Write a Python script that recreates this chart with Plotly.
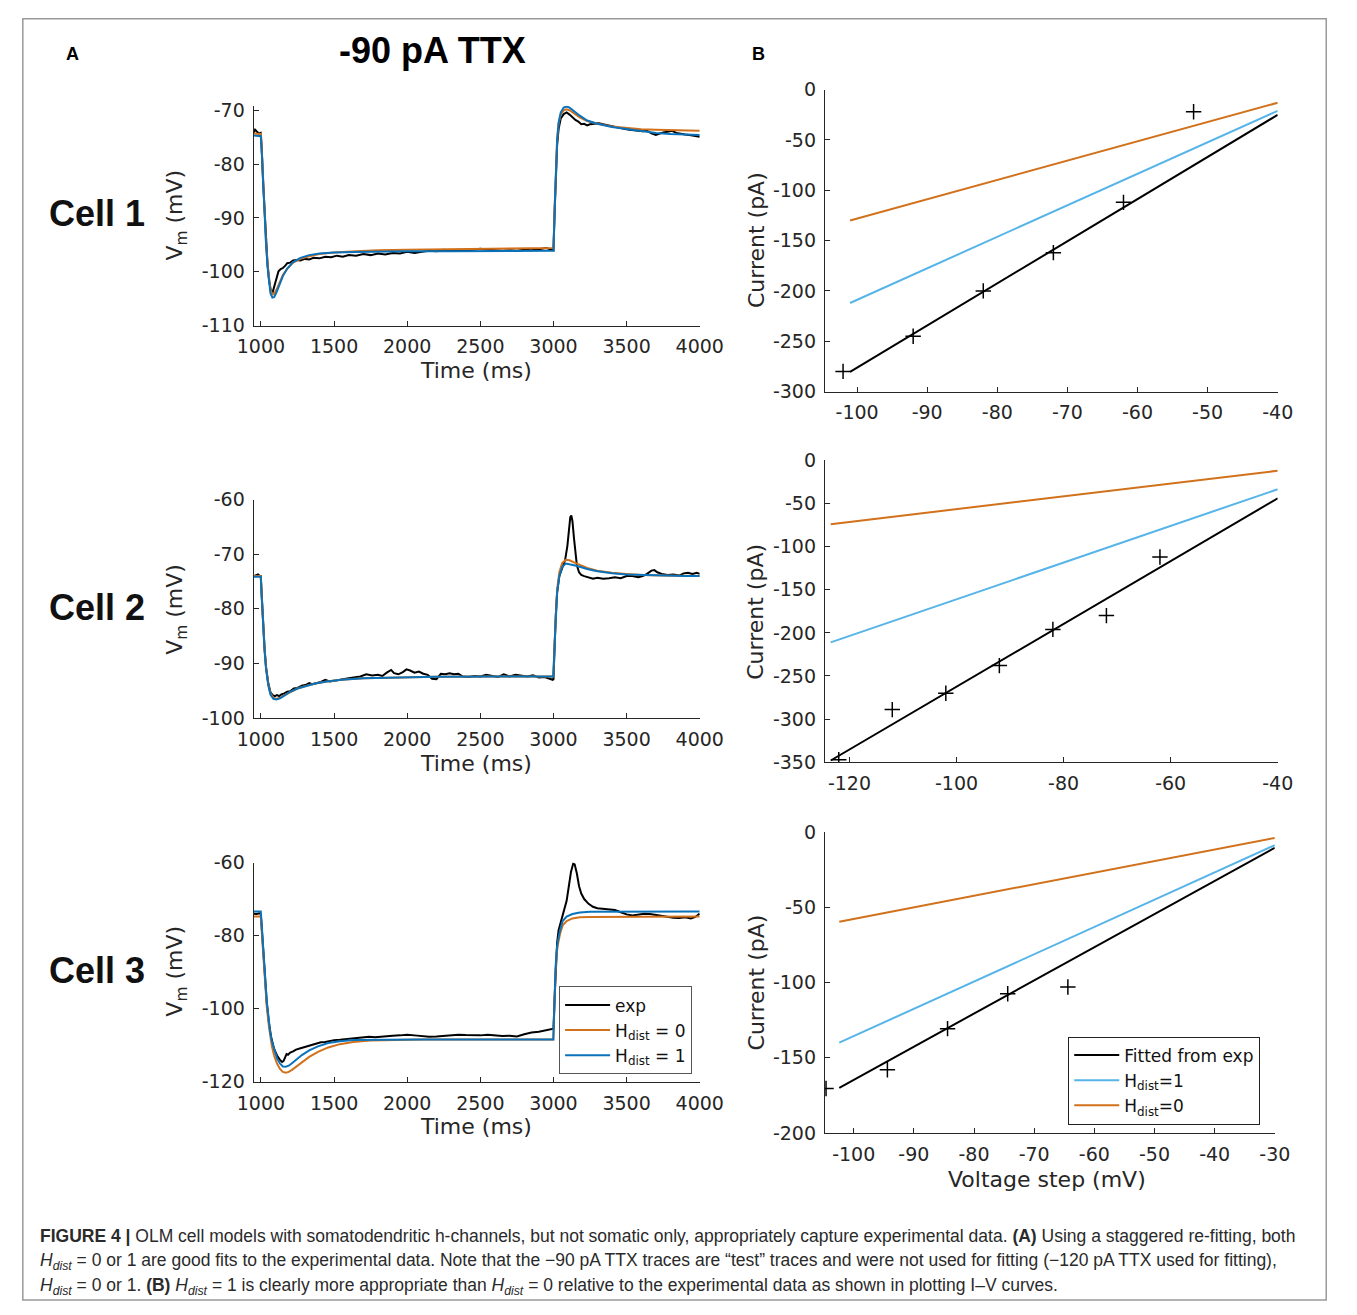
import plotly.graph_objects as go

W, H = 1357, 1315


def px(x):
    return x / W


def py(y):
    return 1 - y / H


# ---------------- Panel A data (time in ms, Vm in mV) ----------------
# Cell 1
c1_t_mod = [950, 995, 1000, 1008, 1016, 1025, 1035, 1045, 1055, 1065, 1078, 1090, 1105, 1125, 1150, 1180,
            1220, 1270, 1330, 1400, 1500, 1650, 1800, 2000, 2300, 2600, 2999, 3000, 3008, 3016, 3025, 3035,
            3050, 3070, 3090, 3110, 3140, 3180, 3230, 3300, 3400, 3500, 3600, 3700, 3800, 3900, 4000]
c1_h0 = [-74.3, -74.3, -74.4, -78.5, -84.0, -89.5, -94.5, -98.5, -101.5, -103.3, -104.2, -104.1, -103.4,
         -102.0, -100.6, -99.4, -98.3, -97.6, -97.1, -96.7, -96.4, -96.2, -96.0, -95.9, -95.8, -95.8, -95.7,
         -95.6, -88.0, -80.5, -75.5, -72.5, -70.8, -70.0, -69.8, -70.0, -70.6, -71.3, -72.0, -72.5, -73.0,
         -73.3, -73.5, -73.6, -73.7, -73.8, -73.8]
c1_h1 = [-74.7, -74.7, -74.8, -79.0, -84.5, -90.0, -95.0, -99.0, -102.2, -104.0, -104.8, -104.7, -103.9,
         -102.4, -100.8, -99.4, -98.2, -97.4, -96.9, -96.6, -96.4, -96.3, -96.2, -96.2, -96.2, -96.2, -96.2,
         -96.1, -88.5, -81.0, -75.5, -72.3, -70.4, -69.5, -69.3, -69.5, -70.2, -71.0, -71.9, -72.5, -73.1,
         -73.5, -73.9, -74.2, -74.4, -74.5, -74.6]
c1_t_exp = [950, 960, 970, 985, 998, 1005, 1015, 1025, 1035, 1045, 1055, 1065, 1072, 1080, 1090, 1100, 1110,
            1120, 1135, 1150, 1165, 1180, 1200, 1220, 1245, 1270, 1300, 1330, 1360, 1400, 1440, 1480, 1520,
            1560, 1600, 1650, 1700, 1750, 1800, 1850, 1900, 1950, 2000, 2050, 2100, 2150, 2200, 2250, 2300,
            2350, 2400, 2450, 2500, 2550, 2600, 2650, 2700, 2750, 2800, 2850, 2900, 2950, 2990, 3000, 3008,
            3016, 3025, 3035, 3050, 3070, 3090, 3110, 3130, 3150, 3170, 3190, 3210, 3230, 3250, 3280, 3310,
            3340, 3370, 3400, 3430, 3460, 3490, 3520, 3550, 3580, 3610, 3640, 3670, 3700, 3720, 3750, 3780,
            3810, 3840, 3870, 3900, 3930, 3960, 4000]
c1_exp = [-74.2, -73.6, -73.9, -74.3, -74.2, -77.0, -83.5, -89.0, -94.5, -98.5, -101.5, -103.5, -104.2,
          -103.8, -102.8, -101.6, -100.5, -99.9, -99.5, -99.3, -98.9, -98.4, -98.3, -97.9, -97.8, -97.9,
          -97.6, -97.7, -97.4, -97.5, -97.2, -97.3, -97.0, -97.2, -96.9, -97.0, -96.7, -96.9, -96.6, -96.8,
          -96.5, -96.6, -96.3, -96.5, -96.3, -96.1, -96.2, -95.9, -96.1, -96.0, -96.1, -95.9, -95.7, -95.9,
          -96.0, -96.1, -96.0, -96.1, -95.9, -96.0, -95.8, -95.6, -95.9, -96.0, -89.0, -81.5, -76.5, -73.5,
          -71.5, -70.7, -70.4, -70.8, -71.3, -71.8, -72.1, -72.6, -72.5, -72.8, -72.6, -72.5, -72.4, -72.6,
          -72.8, -73.0, -73.1, -73.3, -73.5, -73.6, -73.7, -73.8, -73.9, -73.8, -74.3, -74.6, -74.4, -74.1,
          -74.0, -73.8, -74.2, -74.4, -74.5, -74.6, -74.7, -74.9]

# Cell 2
c2_t_mod = [950, 999, 1005, 1015, 1025, 1035, 1050, 1065, 1085, 1105, 1130, 1160, 1200, 1250, 1300, 1370,
            1450, 1550, 1700, 1900, 2200, 2600, 2999, 3008, 3016, 3025, 3040, 3060, 3085, 3110, 3140, 3180,
            3230, 3300, 3400, 3500, 3600, 3750, 3900, 4000]
c2_h0 = [-74.0, -74.0, -77.5, -83.0, -87.5, -90.8, -93.8, -95.5, -96.3, -96.5, -96.3, -95.8, -95.2, -94.6,
         -94.2, -93.7, -93.3, -93.0, -92.7, -92.55, -92.45, -92.4, -92.4, -86.0, -80.5, -76.5, -73.3, -71.6,
         -71.0, -71.1, -71.5, -72.0, -72.5, -73.0, -73.4, -73.6, -73.8, -73.9, -74.0, -74.0]
c2_h1 = [-74.1, -74.1, -77.6, -83.2, -87.7, -91.0, -94.0, -95.7, -96.5, -96.6, -96.4, -95.9, -95.2, -94.6,
         -94.2, -93.7, -93.3, -93.0, -92.7, -92.55, -92.45, -92.4, -92.4, -86.5, -81.0, -77.0, -74.0, -72.3,
         -71.7, -71.8, -72.0, -72.3, -72.7, -73.1, -73.5, -73.7, -73.8, -73.9, -74.0, -74.0]
c2_t_exp = [950, 965, 980, 992, 999, 1005, 1015, 1025, 1035, 1050, 1065, 1080, 1095, 1110, 1125, 1140, 1160,
            1180, 1200, 1225, 1250, 1280, 1310, 1330, 1350, 1380, 1410, 1440, 1470, 1500, 1530, 1560, 1600,
            1640, 1680, 1720, 1760, 1800, 1830, 1860, 1890, 1910, 1940, 1970, 1995, 2020, 2050, 2080, 2110,
            2140, 2170, 2200, 2230, 2260, 2290, 2320, 2350, 2380, 2420, 2460, 2500, 2540, 2580, 2620, 2660,
            2700, 2740, 2780, 2820, 2860, 2900, 2940, 2970, 2995, 3000, 3008, 3016, 3025, 3040, 3060, 3080,
            3095, 3105, 3115, 3122, 3130, 3140, 3150, 3160, 3175, 3190, 3210, 3240, 3270, 3300, 3340, 3380,
            3420, 3460, 3500, 3540, 3580, 3610, 3640, 3670, 3690, 3710, 3740, 3780, 3820, 3860, 3890, 3920,
            3950, 3980, 4000]
c2_exp = [-74.0, -73.9, -73.7, -74.0, -74.0, -77.3, -82.8, -87.3, -90.7, -93.6, -95.3, -95.8, -96.0, -95.8,
          -96.0, -95.7, -95.5, -95.2, -95.1, -94.6, -94.5, -94.1, -93.9, -93.6, -93.8, -93.6, -93.4, -93.0,
          -93.3, -93.2, -93.0, -92.9, -92.7, -92.5, -92.4, -92.0, -92.2, -92.1, -92.3, -91.7, -91.2, -91.8,
          -92.0, -91.6, -91.1, -91.3, -91.7, -91.5, -91.9, -92.1, -92.8, -92.9, -91.9, -92.0, -91.8, -92.0,
          -91.9, -92.4, -92.5, -92.3, -92.4, -92.1, -92.3, -92.5, -92.0, -92.4, -92.1, -92.2, -92.4, -92.2,
          -92.6, -92.5, -92.8, -93.0, -92.9, -86.5, -81.0, -77.0, -74.0, -72.5, -71.0, -68.5, -65.5, -63.2,
          -62.9, -64.0, -67.0, -70.0, -72.0, -73.3, -73.8, -74.0, -74.3, -74.5, -74.3, -74.5, -74.4, -74.2,
          -74.4, -74.0, -74.0, -74.2, -74.0, -73.6, -73.0, -72.9, -73.3, -73.6, -73.8, -73.7, -73.9, -73.5,
          -73.4, -73.6, -73.4, -73.6]

# Cell 3
c3_t_mod = [950, 999, 1005, 1015, 1025, 1040, 1055, 1063, 1075, 1090, 1110, 1130, 1150, 1170, 1190, 1210,
            1240, 1280, 1330, 1390, 1460, 1540, 1630, 1750, 1900, 2100, 2999, 3006, 3014, 3022, 3030, 3045,
            3063, 3090, 3130, 3180, 3250, 4000]
c3_h0 = [-74.8, -74.8, -78.5, -85.5, -91.5, -99.5, -105.0, -107.5, -110.3, -112.8, -115.0, -116.5, -117.3,
         -117.5, -117.3, -116.8, -115.9, -114.6, -113.2, -111.8, -110.6, -109.7, -109.1, -108.7, -108.5,
         -108.4, -108.4, -98.0, -90.0, -85.0, -82.5, -79.5, -77.2, -76.0, -75.3, -75.0, -74.9, -74.8]
c3_h1 = [-73.4, -73.4, -77.0, -84.0, -90.5, -98.0, -103.5, -106.5, -109.0, -111.3, -113.6, -115.0, -115.8,
         -115.9, -115.6, -115.0, -114.0, -112.7, -111.4, -110.3, -109.4, -108.9, -108.6, -108.5, -108.4,
         -108.4, -108.4, -97.0, -89.0, -84.0, -81.5, -78.5, -76.0, -74.8, -74.1, -73.7, -73.5, -73.4]
c3_t_exp = [950, 970, 990, 999, 1005, 1015, 1025, 1040, 1055, 1070, 1090, 1110, 1130, 1145, 1155, 1165, 1175,
            1185, 1200, 1220, 1240, 1265, 1290, 1320, 1350, 1380, 1410, 1440, 1470, 1500, 1540, 1580, 1620,
            1660, 1700, 1740, 1780, 1820, 1860, 1900, 1950, 2000, 2050, 2100, 2150, 2200, 2250, 2300, 2350,
            2400, 2450, 2500, 2550, 2600, 2650, 2700, 2750, 2800, 2850, 2900, 2950, 2990, 3000, 3008, 3016,
            3025, 3035, 3050, 3070, 3090, 3105, 3120, 3135, 3145, 3160, 3175, 3190, 3210, 3240, 3270, 3300,
            3340, 3380, 3420, 3460, 3500, 3540, 3580, 3620, 3660, 3700, 3740, 3780, 3820, 3860, 3900, 3940,
            3970, 4000]
c3_exp = [-74.0, -74.1, -73.9, -74.0, -77.5, -84.5, -91.0, -98.5, -104.0, -107.8, -111.0, -112.8, -114.0,
          -114.6, -114.3, -113.5, -112.4, -112.6, -112.0, -111.7, -111.2, -110.9, -110.6, -110.2, -109.9,
          -109.6, -109.2, -109.1, -108.8, -108.6, -108.5, -108.3, -108.2, -108.0, -107.9, -107.7, -107.8,
          -107.6, -107.5, -107.4, -107.3, -107.1, -107.3, -107.5, -107.7, -107.6, -107.4, -107.2, -107.1,
          -107.2, -107.3, -107.3, -107.1, -107.3, -107.5, -107.4, -107.6, -107.0, -106.5, -106.3, -106.0,
          -105.6, -105.5, -97.0, -89.0, -82.0, -78.5, -76.3, -74.0, -70.5, -66.5, -62.5, -60.3, -60.5, -63.0,
          -66.5, -68.5, -70.0, -71.3, -72.1, -72.5, -72.7, -72.9, -73.0, -73.6, -74.2, -74.5, -74.3, -74.0,
          -74.1, -74.4, -74.5, -74.8, -75.1, -75.2, -75.0, -75.3, -74.9, -74.0]

# ---------------- Panel B data (voltage step mV, current pA) ----------------
b1_v_pts = [-102, -92, -82, -72, -62, -52]
b1_i_pts = [-280, -245, -200, -162, -112, -22]
b1_v_line = [-101, -40]
b1_fit = [-280.5, -25]
b1_h1 = [-212, -21]
b1_h0 = [-130, -13]

b2_v_pts = [-122, -112, -102, -92, -82, -72, -62]
b2_i_pts = [-347, -289, -270, -238, -196, -180, -112]
b2_v_line = [-123.5, -40]
b2_fit = [-348, -44]
b2_h1 = [-211, -33.5]
b2_h0 = [-74, -12]

b3_v_pts = [-104.6, -94.4, -84.4, -74.4, -64.4]
b3_i_pts = [-170.5, -158, -130.7, -107.5, -103]
b3_v_line = [-102.4, -30]
b3_fit = [-170, -10.5]
b3_h1 = [-140, -8.7]
b3_h0 = [-59.6, -3.9]

# ---------------- tick values ----------------
a_xticks = [1000, 1500, 2000, 2500, 3000, 3500, 4000]
c1_yticks = [-110, -100, -90, -80, -70]
c2_yticks = [-100, -90, -80, -70, -60]
c3_yticks = [-120, -100, -80, -60]
b1_xticks = [-100, -90, -80, -70, -60, -50, -40]
b1_yticks = [-300, -250, -200, -150, -100, -50, 0]
b2_xticks = [-120, -100, -80, -60, -40]
b2_yticks = [-350, -300, -250, -200, -150, -100, -50, 0]
b3_xticks = [-100, -90, -80, -70, -60, -50, -40, -30]
b3_yticks = [-200, -150, -100, -50, 0]

C_EXP = '#000000'
C_H0 = '#D2711C'
C_H1 = '#0A72BA'
C_H1B = '#56B4E9'
AX = '#262626'
FONT = 'DejaVu Sans'

fig = go.Figure()

cells = [
    (c1_t_exp, c1_exp, c1_t_mod, c1_h0, c1_h1),
    (c2_t_exp, c2_exp, c2_t_mod, c2_h0, c2_h1),
    (c3_t_exp, c3_exp, c3_t_mod, c3_h0, c3_h1),
]
for i, (te, ve, tm, h0, h1) in enumerate(cells):
    xa = 'x' if i == 0 else f'x{i + 1}'
    ya = 'y' if i == 0 else f'y{i + 1}'
    show = (i == 2)
    fig.add_trace(go.Scatter(x=te, y=ve, mode='lines', line=dict(color=C_EXP, width=2),
                             name='exp', xaxis=xa, yaxis=ya, showlegend=show, legend='legend'))
    fig.add_trace(go.Scatter(x=tm, y=h0, mode='lines', line=dict(color=C_H0, width=2),
                             name='H<sub>dist</sub> = 0', xaxis=xa, yaxis=ya, showlegend=show,
                             legend='legend'))
    fig.add_trace(go.Scatter(x=tm, y=h1, mode='lines', line=dict(color=C_H1, width=2),
                             name='H<sub>dist</sub> = 1', xaxis=xa, yaxis=ya, showlegend=show,
                             legend='legend'))

bpanels = [
    (b1_v_pts, b1_i_pts, b1_v_line, b1_fit, b1_h1, b1_h0),
    (b2_v_pts, b2_i_pts, b2_v_line, b2_fit, b2_h1, b2_h0),
    (b3_v_pts, b3_i_pts, b3_v_line, b3_fit, b3_h1, b3_h0),
]
for j, (vp, ip, vl, fit, h1, h0) in enumerate(bpanels):
    n = j + 4
    xa, ya = f'x{n}', f'y{n}'
    show = (j == 2)
    fig.add_trace(go.Scatter(x=vl, y=fit, mode='lines', line=dict(color=C_EXP, width=2),
                             name='Fitted from exp', xaxis=xa, yaxis=ya, showlegend=show,
                             legend='legend2'))
    fig.add_trace(go.Scatter(x=vl, y=h1, mode='lines', line=dict(color=C_H1B, width=2),
                             name='H<sub>dist</sub>=1', xaxis=xa, yaxis=ya, showlegend=show,
                             legend='legend2'))
    fig.add_trace(go.Scatter(x=vl, y=h0, mode='lines', line=dict(color=C_H0, width=2),
                             name='H<sub>dist</sub>=0', xaxis=xa, yaxis=ya, showlegend=show,
                             legend='legend2'))
    fig.add_trace(go.Scatter(x=vp, y=ip, mode='markers',
                             marker=dict(symbol='cross-thin', size=11, color=C_EXP,
                                         line=dict(color=C_EXP, width=1.5)),
                             xaxis=xa, yaxis=ya, showlegend=False))


def axis_style(domain, rng, ticks, anchor, standoff):
    return dict(domain=domain, range=rng, anchor=anchor, showline=True, linecolor=AX, linewidth=1,
                ticks='inside', ticklen=5, tickwidth=1, tickcolor=AX, showgrid=False, zeroline=False,
                tickvals=ticks, ticktext=[str(v) for v in ticks],
                tickfont=dict(family=FONT, size=19, color=AX), ticklabelstandoff=standoff)


layout = dict(
    width=W, height=H, autosize=False, margin=dict(l=0, r=0, t=0, b=0),
    paper_bgcolor='white', plot_bgcolor='white', showlegend=True,
)

a_x = [px(244), px(704)]
layout['xaxis'] = axis_style(a_x, [950, 4000], a_xticks, 'y', 4)
layout['yaxis'] = axis_style([py(320), py(96.6)], [-110, -69.2], c1_yticks, 'x', 4)
layout['xaxis2'] = axis_style(a_x, [950, 4000], a_xticks, 'y2', 4)
layout['yaxis2'] = axis_style([py(719), py(497)], [-100, -60], c2_yticks, 'x2', 4)
layout['xaxis3'] = axis_style(a_x, [950, 4000], a_xticks, 'y3', 4)
layout['yaxis3'] = axis_style([py(1089), py(866)], [-120, -60], c3_yticks, 'x3', 4)

layout['xaxis4'] = axis_style([px(833), px(1300)], [-104.6, -40], b1_xticks, 'y4', 4)
layout['yaxis4'] = axis_style([py(387), py(80)], [-300, 0], b1_yticks, 'x4', 4)
layout['xaxis5'] = axis_style([px(833), px(1300)], [-124.6, -40], b2_xticks, 'y5', 4)
layout['yaxis5'] = axis_style([py(764), py(457)], [-350, 0], b2_yticks, 'x5', 4)
layout['xaxis6'] = axis_style([px(833), px(1297)], [-104.8, -30], b3_xticks, 'y6', 4)
layout['yaxis6'] = axis_style([py(1141), py(835)], [-200, 0], b3_yticks, 'x6', 4)

layout['legend'] = dict(x=px(559), y=py(992), xanchor='left', yanchor='top', bgcolor='white',
                        bordercolor='#555555', borderwidth=1, itemwidth=45, tracegroupgap=0,
                        font=dict(family=FONT, size=17, color='#111111'), traceorder='normal')
layout['legend2'] = dict(x=px(1084), y=py(1043), xanchor='left', yanchor='top', bgcolor='white',
                         bordercolor='#222222', borderwidth=1, itemwidth=45, tracegroupgap=0,
                         font=dict(family=FONT, size=17, color='#111111'), traceorder='normal')

fig.update_layout(**layout)

ann = []


def add_text(text, x, y, size, family=FONT, bold=False, angle=0, xanchor='center', color='#111111'):
    ann.append(dict(text=(f'<b>{text}</b>' if bold else text), x=px(x), y=py(y), xref='paper',
                    yref='paper', showarrow=False, xanchor=xanchor, yanchor='middle', textangle=angle,
                    font=dict(family=family, size=size, color=color)))


add_text('-90 pA TTX', 428, 40, 36, family='Liberation Sans', bold=True, color='#000000')
add_text('A', 57, 44, 18, family='Liberation Sans', bold=True, color='#000000')
add_text('B', 765, 44, 18, family='Liberation Sans', bold=True, color='#000000')
for lbl, yc in [('Cell 1', 206), ('Cell 2', 607), ('Cell 3', 976)]:
    add_text(lbl, 83, yc, 36, family='Liberation Sans', bold=True, color='#111111')
for yc in [208, 609, 977]:
    add_text('V<sub>m</sub> (mV)', 165, yc, 22, angle=-90, color=AX)
for yc in [366, 765, 1134]:
    add_text('Time (ms)', 473, yc, 22, color=AX)
for yc in [233, 611, 988]:
    add_text('Current (pA)', 762, yc, 22, angle=-90, color=AX)
add_text('Voltage step (mV)', 1062, 1188, 22, color=AX)

cap_font = 'Liberation Sans'
cap_lines = [
    '<b>FIGURE 4 |</b> OLM cell models with somatodendritic h-channels, but not somatic only, appropriately '
    'capture experimental data. <b>(A)</b> Using a staggered re-fitting, both',
    '<i>H<sub>dist</sub></i> = 0 or 1 are good fits to the experimental data. Note that the \u221290 pA TTX '
    'traces are \u201ctest\u201d traces and were not used for fitting (\u2212120 pA TTX used for fitting),',
    '<i>H<sub>dist</sub></i> = 0 or 1. <b>(B)</b> <i>H<sub>dist</sub></i> = 1 is clearly more appropriate '
    'than <i>H<sub>dist</sub></i> = 0 relative to the experimental data as shown in plotting I\u2013V curves.',
]
for line, yc in zip(cap_lines, [1246, 1272, 1297]):
    add_text(line, 22, yc, 17.5, family=cap_font, xanchor='left', color='#2a2a2a')

fig.update_layout(annotations=ann)
fig.add_shape(type='rect', xref='paper', yref='paper', x0=px(6), x1=px(1350), y0=py(1311), y1=py(8),
              line=dict(color='#999999', width=1.5), fillcolor='rgba(0,0,0,0)', layer='above')

fig.write_html('out.html')
